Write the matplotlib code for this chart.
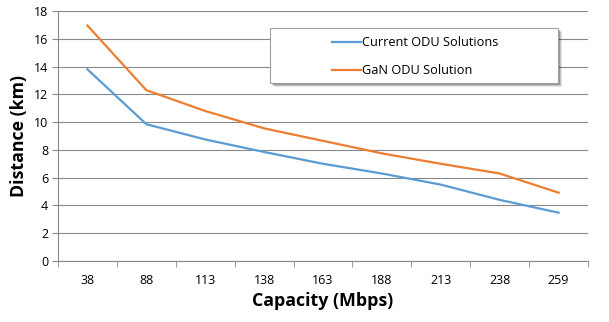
import matplotlib
matplotlib.use("Agg")
import matplotlib.pyplot as plt
from matplotlib.patches import Rectangle
from matplotlib.lines import Line2D
import numpy as np

categories = ["38", "88", "113", "138", "163", "188", "213", "238", "259"]
current_odu = [13.8, 9.85, 8.75, 7.85, 7.0, 6.3, 5.5, 4.4, 3.48]
gan_odu = [16.95, 12.3, 10.8, 9.55, 8.65, 7.75, 7.0, 6.3, 4.92]
series_names = ["Current ODU Solutions", "GaN ODU Solution"]

plt.rcParams['font.family'] = ['Open Sans', 'DejaVu Sans']

W, H = 609, 322
fig = plt.figure(figsize=(W/100, H/100), dpi=100)
ax = fig.add_axes([58/W, 1-261/H, (588-58)/W, (261-11)/H])

def fx(px):
    return px / W
def fy(py):
    return 1 - py / H

x = np.arange(len(categories))
blue = "#5B9BD5"
orange = "#ED7D31"
ax.plot(x, current_odu, color=blue, lw=1.6)
ax.plot(x, gan_odu, color=orange, lw=1.6)

ax.set_xlim(-0.5, len(categories) - 0.5)
ax.set_ylim(0, 18)
ax.set_yticks(range(0, 19, 2))
ax.set_xticks(x)
ax.set_xticklabels(categories)
ax.set_xticks(np.arange(-0.5, len(categories), 1.0), minor=True)
ax.tick_params(axis='x', which='major', length=0, pad=9, labelsize=9, colors='#000000')
ax.tick_params(axis='x', which='minor', length=4, color='#888888', direction='out')
ax.tick_params(axis='y', length=4, color='#888888', labelsize=9, pad=3)
ax.yaxis.grid(True, color='#888888', lw=0.8)
ax.set_axisbelow(True)
for s in ['top', 'right']:
    ax.spines[s].set_visible(False)
ax.spines['left'].set_color('#888888')
ax.spines['bottom'].set_color('#888888')

ax.set_xlabel("Capacity (Mbps)", fontsize=12.8, fontweight='bold', labelpad=4)
ax.set_ylabel("Distance (km)", fontsize=12.8, fontweight='bold', labelpad=4)

# custom legend box (Excel-style, with shadow)
lx0, lx1, ly0, ly1 = 270, 558, 28, 83
for off, alpha in [(4, 0.10), (3, 0.15), (2, 0.22)]:
    fig.patches.append(Rectangle((fx(lx0 + off), fy(ly1 + off)), fx(lx1 - lx0), (ly1 - ly0) / H,
                                 transform=fig.transFigure, facecolor='#000000', alpha=alpha,
                                 edgecolor='none', zorder=5))
fig.patches.append(Rectangle((fx(lx0), fy(ly1)), fx(lx1 - lx0), (ly1 - ly0) / H,
                             transform=fig.transFigure, facecolor='white',
                             edgecolor='#A0A0A0', lw=0.8, zorder=6))
for name, col, py in [(series_names[0], blue, 42), (series_names[1], orange, 70)]:
    fig.lines.append(Line2D([fx(332), fx(361)], [fy(py), fy(py)], transform=fig.transFigure,
                            color=col, lw=1.6, zorder=7))
    fig.text(fx(362), fy(py), name, fontsize=9.2, va='center', ha='left', zorder=8)

fig.savefig("out.png", dpi=100)
